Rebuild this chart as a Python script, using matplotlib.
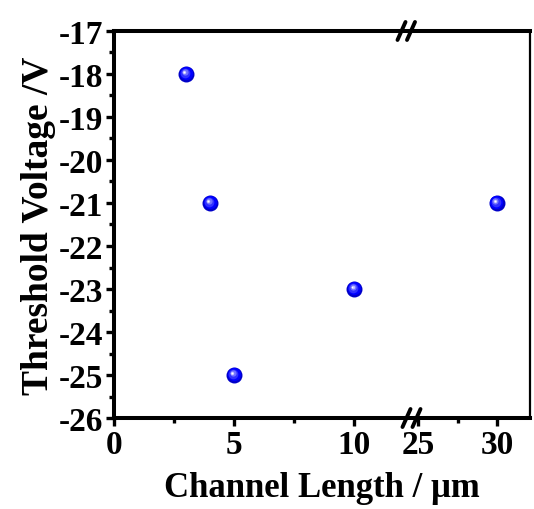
import numpy as np
import matplotlib
matplotlib.use("Agg")
import matplotlib.pyplot as plt
from matplotlib.ticker import FixedLocator
from matplotlib.transforms import ScaledTranslation

# ---- data ----
channel_length = [3, 4, 5, 10, 30]
threshold_voltage = [-18, -21, -25, -23, -21]
x_major_ticks = [0, 5, 10, 25, 30]
x_minor_ticks = [2.5, 7.5, 27.5]
y_major_ticks = list(range(-26, -16))
y_minor_ticks = [v + 0.5 for v in range(-26, -17)]

# ---- broken x scale ----
L_END = 12.3
R_START = 24.45
K = 0.655

def fwd(x):
    x = np.asarray(x, dtype=float)
    return np.where(x <= L_END, x,
                    np.where(x >= R_START, L_END + (x - R_START) * K, L_END))

def inv(u):
    u = np.asarray(u, dtype=float)
    return np.where(u <= L_END, u, R_START + (u - L_END) / K)

plt.rcParams['font.family'] = ['Liberation Serif', 'DejaVu Serif']
plt.rcParams['font.weight'] = 'bold'

fig = plt.figure(figsize=(5.34, 5.10), dpi=100)
ax = fig.add_axes([0.2135, 0.1784, 0.9925 - 0.2135, 0.9373 - 0.1784])
ax.set_xscale('function', functions=(fwd, inv))
ax.set_xlim(0, 32.1)
ax.set_ylim(-26, -17)

# markers with a shaded sphere look
layers = [(11.5, '#0000c8', 0.0), (9.5, '#0000ff', -0.4), (7, '#3030ff', -0.8),
          (4.5, '#7070ff', -1.1), (2.5, '#c0c0ff', -1.3), (1.2, '#ffffff', -1.4)]
for ms, col, off in layers:
    tr = ax.transData + ScaledTranslation(off / 72, -off / 72, fig.dpi_scale_trans)
    ax.plot(channel_length, threshold_voltage, 'o', ms=ms, color=col, mec='none',
            transform=tr, zorder=3)

# spines
for side in ['left', 'bottom', 'top']:
    ax.spines[side].set_linewidth(2.9)
ax.spines['right'].set_linewidth(1.6)

ax.xaxis.set_major_locator(FixedLocator(x_major_ticks))
ax.xaxis.set_minor_locator(FixedLocator(x_minor_ticks))
ax.yaxis.set_major_locator(FixedLocator(y_major_ticks))
ax.yaxis.set_minor_locator(FixedLocator(y_minor_ticks))
ax.set_xticklabels([str(v) for v in x_major_ticks])
ax.set_yticklabels([str(v) for v in y_major_ticks])

ax.tick_params(axis='both', which='major', direction='out', length=6, width=2.4,
               labelsize=24, pad=2)
ax.tick_params(axis='both', which='minor', direction='out', length=3.5, width=2.4)
ax.tick_params(top=False, right=False, which='both')
for lab in ax.get_xticklabels() + ax.get_yticklabels():
    lab.set_fontweight('bold')

ax.set_xlabel('Channel Length / μm', fontsize=25, fontweight='bold', labelpad=8)
ax.set_ylabel('Threshold Voltage /V', fontsize=27, fontweight='bold', labelpad=2)

# break marks (axes-fraction coordinates)
W = 416.0
H = 387.0
for (ycen, xcens) in ((1.0, (401.5, 411.0)), (0.0, (406.5, 416.5))):
    for xc in xcens:
        xf = (xc - 114) / W
        ax.plot([xf - 4 / W, xf + 4 / W], [ycen - 9 / H, ycen + 9 / H],
                color='black', lw=2.8, solid_capstyle='round',
                transform=ax.transAxes, clip_on=False, zorder=5)

fig.savefig('out.png', dpi=100)
